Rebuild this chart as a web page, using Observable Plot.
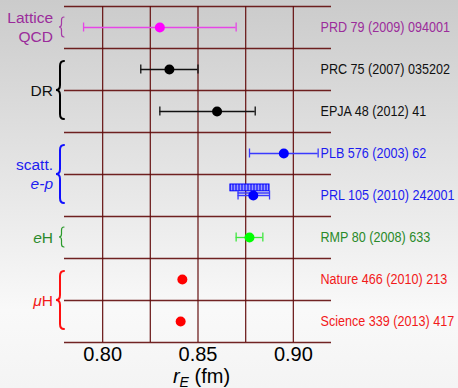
<!DOCTYPE html>
<html><head><meta charset="utf-8">
<script src="https://cdn.jsdelivr.net/npm/d3@7"></script>
<script src="https://cdn.jsdelivr.net/npm/@observablehq/plot@0.6"></script>
<style>
html,body{margin:0;padding:0;}
body{width:458px;height:388px;overflow:hidden;background:linear-gradient(to bottom,#cbcbcb 0%,#f9f9f9 80%,#f4f4f4 100%);font-family:"Liberation Sans",Arial,sans-serif;}
#chart svg{display:block;}
</style></head><body><div id="chart"></div>
<script>
// ---- data ----
const refs = ["PRD 79 (2009) 094001","PRC 75 (2007) 035202","EPJA 48 (2012) 41","PLB 576 (2003) 62","PRL 105 (2010) 242001","RMP 80 (2008) 633","Nature 466 (2010) 213","Science 339 (2013) 417"];
const rE    = [0.830, 0.835, 0.860, 0.895, 0.879, 0.877, 0.8418, 0.8409];
const errLo = [0.790, 0.820, 0.830, 0.877, 0.871, 0.870, null, null];
const errHi = [0.870, 0.850, 0.880, 0.913, 0.8875, 0.884, null, null];
const sysLo = [null, null, null, null, 0.867, null, null, null];
const sysHi = [null, null, null, null, 0.8875, null, null, null];
const method = ["lattice","dr","dr","scatt","scatt","eh","muh","muh"];
const groupLabels = ["Lattice|QCD", "DR", "scatt.|_e-p_", "_e_H", "_μ_H"];
const groupFirst  = [0, 1, 3, 5, 6];
const groupLast   = [0, 2, 4, 5, 7];
const groupMethod = ["lattice","dr","scatt","eh","muh"];
const xTicks = [0.80, 0.85, 0.90];
const xGrid  = [0.80, 0.825, 0.85, 0.875, 0.90];
const xDomain = [0.78, 0.92];

const dotColor  = {lattice:"#ff00ff", dr:"#000000", scatt:"#0000ff", eh:"#00ff00", muh:"#ff0000"};
const barColor  = {lattice:"#e645e6", dr:"#111111", scatt:"#3a3aff", eh:"#3ee63e", muh:"#ff0000"};
const textColor = {lattice:"#9b2c9b", dr:"#111111", scatt:"#1c1cf0", eh:"#2a8a2a", muh:"#f21a1a"};
const braceColor = {lattice:"#a63aa6", dr:"#000000", scatt:"#1010ff", eh:"#2a9a2a", muh:"#ff1010"};
const gridColor = "#620b0b";

const rows = refs.map((ref, i) => ({ref, y: i + 0.5, rE: rE[i], lo: errLo[i], hi: errHi[i], slo: sysLo[i], shi: sysHi[i], m: method[i]}));
const errRows = rows.filter(d => d.lo != null);
const sysRows = rows.filter(d => d.slo != null);
const rowEdges = d3.range(refs.length + 1);

const W = 458, H = 388, mL = 64, mR = 127, mT = 6, mB = 46;

function groupsMark(index, scales) {
  const g = d3.create("svg:g");
  const defs = g.append("defs");
  const pat = defs.append("pattern").attr("id","bhatch").attr("width",3).attr("height",10).attr("patternUnits","userSpaceOnUse");
  pat.append("rect").attr("width",3).attr("height",10).attr("fill","#4646ff");
  pat.append("rect").attr("width",1).attr("height",10).attr("fill","#9a9aff");
  groupLabels.forEach((lab, k) => {
    const y1c = scales.y(groupFirst[k] + 0.5), y2c = scales.y(groupLast[k] + 0.5);
    const single = groupFirst[k] === groupLast[k];
    const ext = single ? 10 : 8, w = single ? 5 : 8;
    const x0 = mL, xt = x0 - w, xm = x0 - w / 2, r = single ? 3 : 5;
    const ya = y1c - ext, yb = y2c + ext, ym = (ya + yb) / 2;
    const col = textColor[groupMethod[k]];
    const p = `M${x0},${ya} Q${xm},${ya} ${xm},${ya + r} L${xm},${ym - r} Q${xm},${ym} ${xt},${ym} Q${xm},${ym} ${xm},${ym + r} L${xm},${yb - r} Q${xm},${yb} ${x0},${yb}`;
    g.append("path").attr("d", p).attr("fill","none").attr("stroke", braceColor[groupMethod[k]])
      .attr("stroke-width", single ? 1.2 : 2).attr("stroke-linecap","round");
    const lines = lab.split("|");
    const lh = 18.5;
    lines.forEach((ln, j) => {
      const cy = ym + (j - (lines.length - 1) / 2) * lh;
      const t = g.append("text").attr("x", mL - 11).attr("y", cy + 5.6).attr("text-anchor","end")
        .attr("fill", col).attr("font-size", 15.5).attr("font-family", "'Liberation Sans', Arial, sans-serif");
      ln.split("_").forEach((part, q) => { if (part) t.append("tspan").attr("font-style", q % 2 ? "italic" : "normal").text(part); });
    });
  });
  return g.node();
}

const plot = Plot.plot({
  width: W, height: H,
  marginLeft: mL, marginRight: mR, marginTop: mT, marginBottom: mB,
  style: {background: "transparent", fontSize: "20px", fontFamily: "'Liberation Sans', Arial, sans-serif", color: "#000", overflow: "visible"},
  x: {domain: xDomain, ticks: xTicks, tickFormat: ".2f", tickSize: 0, tickPadding: 4, label: null},
  y: {domain: [0, refs.length], reverse: true, axis: null},
  color: {type: "identity"},
  marks: [
    Plot.ruleX(xGrid, {stroke: gridColor, strokeWidth: 1.3, strokeOpacity: 0.9}),
    Plot.ruleY(rowEdges, {stroke: gridColor, strokeWidth: 1.3, strokeOpacity: 0.9}),
    Plot.rect(sysRows, {x1: "slo", x2: "shi", y1: "y", y2: "y", insetTop: -3.4, insetBottom: -3.4, dy: -7.6, fill: "url(#bhatch)", stroke: "#0000ff", strokeWidth: 1}),
    Plot.ruleY(errRows, {x1: "lo", x2: "hi", y: "y", stroke: d => barColor[d.m], strokeWidth: 1.3}),
    Plot.ruleY(sysRows, {x1: "lo", x2: "hi", y: "y", dy: -2.5, stroke: d => barColor[d.m], strokeWidth: 1.3}),
    Plot.ruleX(errRows, {x: "lo", y1: "y", y2: "y", insetTop: -4.5, insetBottom: -4.5, stroke: d => barColor[d.m], strokeWidth: 1.3}),
    Plot.ruleX(errRows, {x: "hi", y1: "y", y2: "y", insetTop: -4.5, insetBottom: -4.5, stroke: d => barColor[d.m], strokeWidth: 1.3}),
    Plot.dot(rows, {x: "rE", y: "y", r: 5, fill: d => dotColor[d.m], stroke: "none"}),
    Plot.text(rows, {y: "y", text: "ref", frameAnchor: "right", dx: -11, textAnchor: "start", fill: d => textColor[d.m], fontSize: 15, fontFamily: "'Liberation Sans', Arial, sans-serif"}),
    groupsMark
  ]
});

const svg = d3.select(plot);
const lab = svg.append("text").attr("x", (mL + (W - mR)) / 2 + 4).attr("y", 382.5).attr("text-anchor","middle")
  .attr("font-size", 20).attr("fill", "#000").attr("font-family","'Liberation Sans', Arial, sans-serif");
lab.append("tspan").attr("font-style","italic").text("r");
lab.append("tspan").attr("font-style","italic").attr("font-size", 14).attr("dy", 4).text("E");
lab.append("tspan").attr("dy", -4).text("\u00a0(fm)");
document.getElementById("chart").appendChild(plot);

// the reference uses a condensed face for the citation labels: compress them horizontally about their start point
svg.selectAll('g[aria-label="text"] text').each(function() {
  const tr = this.getAttribute("transform") || "";
  this.setAttribute("transform", tr + " scale(0.84,1)");
  const x = +(this.getAttribute("x") || 0);
  if (x) this.setAttribute("x", (x / 0.84).toFixed(2));
});
</script></body></html>
